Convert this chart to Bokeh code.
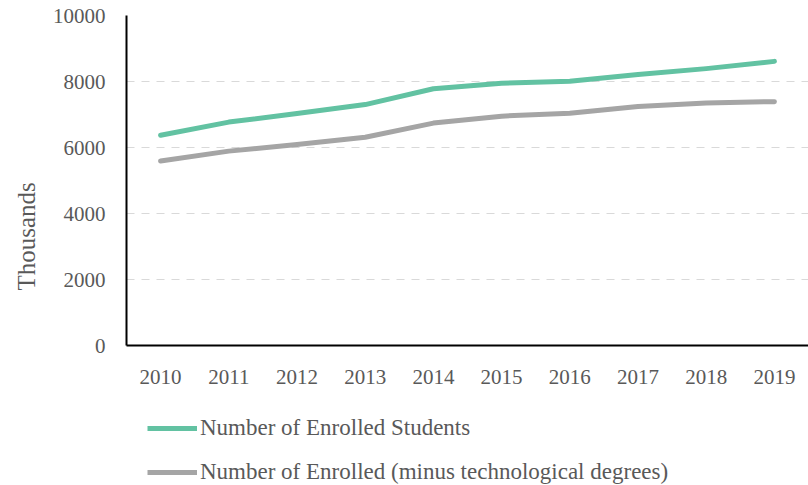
from bokeh.plotting import figure
from bokeh.models import FixedTicker, Legend, LegendItem, Title, FactorRange
from bokeh.layouts import column
from bokeh.embed import file_html
from bokeh.resources import INLINE

years = ["2010", "2011", "2012", "2013", "2014", "2015", "2016", "2017", "2018", "2019"]
enrolled = [6370, 6770, 7030, 7300, 7780, 7950, 8010, 8210, 8390, 8610]
enrolled_minus_tech = [5590, 5890, 6090, 6310, 6740, 6950, 7040, 7240, 7350, 7390]
y_ticks = [0, 2000, 4000, 6000, 8000, 10000]
series_names = ["Number of Enrolled Students", "Number of Enrolled (minus technological degrees)"]
series_colors = ["#62C2A2", "#A5A5A5"]

FONT = "Liberation Serif"
TXT = "#595959"

p = figure(x_range=years, y_range=(0, 10000), width=808, height=395,
           output_backend="svg", toolbar_location=None,
           min_border_left=126, min_border_right=0, min_border_top=15, min_border_bottom=50)
p.outline_line_color = None

p.line(years, enrolled, line_color=series_colors[0], line_width=5, line_cap="round", line_join="round")
p.line(years, enrolled_minus_tech, line_color=series_colors[1], line_width=5, line_cap="round", line_join="round")

p.xgrid.grid_line_color = None
p.ygrid.grid_line_color = "#D9D9D9"
p.ygrid.grid_line_dash = "8 7"
p.ygrid.grid_line_width = 1
p.yaxis.ticker = FixedTicker(ticks=y_ticks)

for ax in (p.xaxis[0], p.yaxis[0]):
    ax.axis_line_color = "black"
    ax.axis_line_width = 2
    ax.major_tick_line_color = None
    ax.minor_tick_line_color = None
    ax.major_tick_out = 0
    ax.major_tick_in = 0
    ax.major_label_text_font = FONT
    ax.major_label_text_font_size = "21px"
    ax.major_label_text_color = TXT
p.xaxis.major_label_standoff = 24
p.yaxis.major_label_standoff = 21
p.x_range.range_padding = 0

ytitle = Title(text="Thousands", align="left", offset=55, standoff=20,
               text_font=FONT, text_font_size="25px", text_color=TXT, text_font_style="normal")
p.add_layout(ytitle, "left")

# legend strip below the chart (its lines are kept out of view)
p2 = figure(width=808, height=90, x_range=FactorRange(*years), y_range=(-2, -1),
            output_backend="svg", toolbar_location=None,
            min_border_left=126, min_border_right=0, min_border_top=0, min_border_bottom=0)
p2.outline_line_color = None
p2.axis.visible = False
p2.grid.grid_line_color = None
lr1 = p2.line(years, enrolled, line_color=series_colors[0], line_width=5)
lr2 = p2.line(years, enrolled_minus_tech, line_color=series_colors[1], line_width=5)

legend = Legend(items=[LegendItem(label=series_names[0], renderers=[lr1]),
                       LegendItem(label=series_names[1], renderers=[lr2])],
                location=(21, 0), orientation="vertical",
                glyph_width=50, glyph_height=24, label_height=24, spacing=18,
                label_standoff=3, padding=0, margin=0,
                border_line_color=None, background_fill_alpha=0,
                label_text_font=FONT, label_text_font_size="23px", label_text_color=TXT)
p2.add_layout(legend, "center")

layout = column(p, p2, spacing=0)
open("out.html", "w").write(file_html(layout, INLINE))
